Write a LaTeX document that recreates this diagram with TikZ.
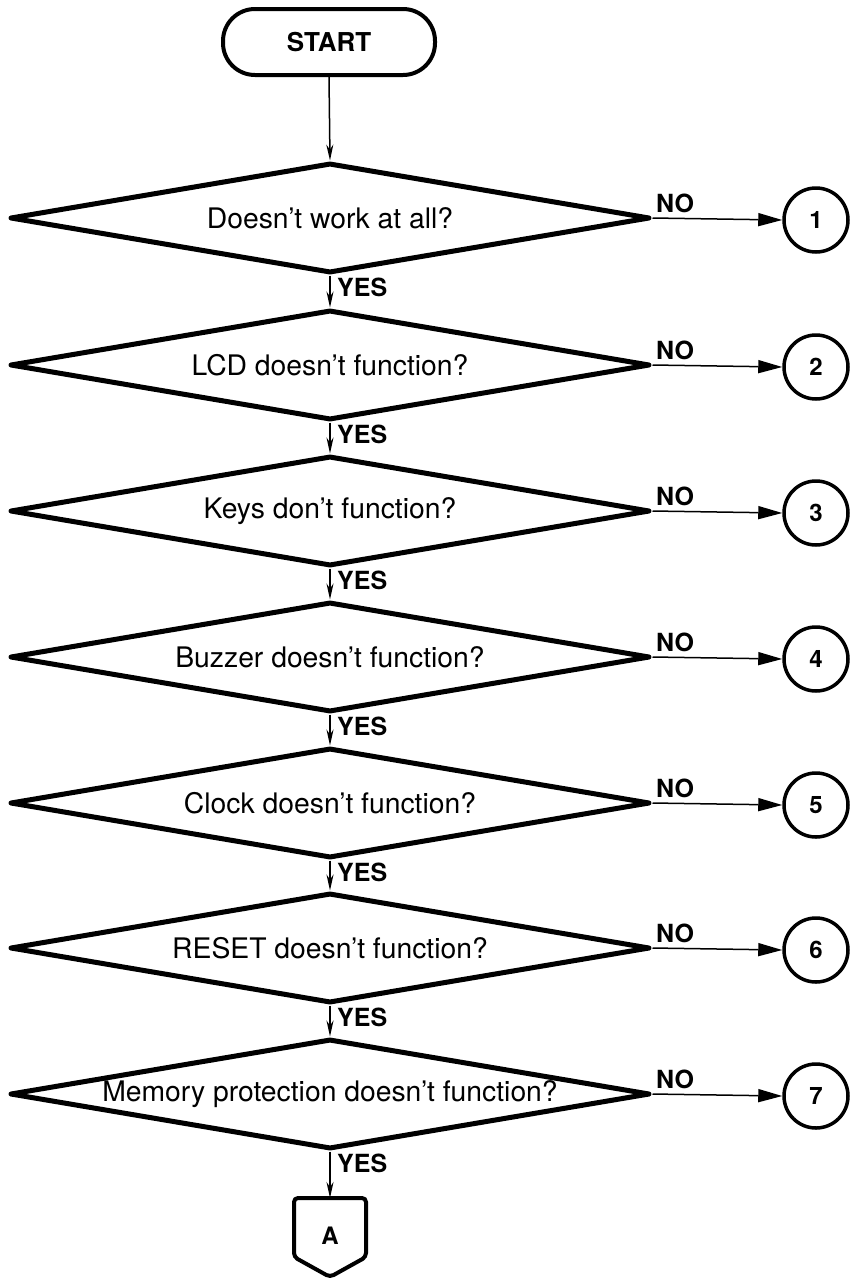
\documentclass[tikz,border=0pt]{standalone}
\usepackage{fontspec}
\setmainfont{TeX Gyre Heros}
\usetikzlibrary{shapes.geometric,arrows.meta}
\begin{document}
\begin{tikzpicture}[x=1pt,y=-1pt,
  dia/.style={shape=diamond,draw,line width=5pt,line join=round,minimum width=640pt,minimum height=110pt,inner sep=0pt},
  qtext/.style={font=\fontsize{28.3}{31}\selectfont},
  lab/.style={font=\bfseries\fontsize{25}{27}\selectfont,inner sep=0pt},
  conn/.style={draw,line width=3.5pt,circle,minimum size=64pt,inner sep=0pt,font=\bfseries\fontsize{24}{26}\selectfont},
  down/.style={line width=1.5pt,-{Stealth[length=16pt,width=7pt]}},
  rightarr/.style={line width=1.5pt,-{Triangle[length=24pt,width=13pt]}},
  startbox/.style={draw,line width=4pt,rounded corners=32pt,minimum width=212pt,minimum height=66pt,font=\bfseries\fontsize{26}{28}\selectfont}
]
\useasboundingbox (0,0) rectangle (849,1280);
\node[startbox] (start) at (329,42) {START};
\foreach \i/\y/\t in {1/218/{Doesn’t work at all?},2/365/{LCD doesn’t function?},3/511/{Keys don’t function?},4/657/{Buzzer doesn’t function?},5/803/{Clock doesn’t function?},6/948/{RESET doesn’t function?},7/1094/{Memory protection doesn’t function?}}{
  \node[dia] (d\i) at (330,\y) {};
  \node[qtext] (t\i) at (330,\y) {\t};
  \node[conn] (c\i) at (816,\y+2) {\i};
  \draw[rightarr] (d\i.east) -- (c\i.west);
  \node[lab,anchor=south west] (no\i) at (656,\y-5) {NO};
  \node[lab,anchor=north west] (yes\i) at (337,\y+60) {YES};
}
\draw[down] (start.south) -- (d1.north);
\foreach \i/\j in {1/2,2/3,3/4,4/5,5/6,6/7}{\draw[down] (d\i.south) -- (d\j.north);}
% off-page connector A
\coordinate (Atop) at (330,1198);
\draw[line width=4pt,rounded corners=4pt] (Atop) -- (366,1198) -- (366,1257) -- (330,1277) -- (294,1257) -- (294,1198) -- cycle;
\node[lab,font=\bfseries\fontsize{24}{26}\selectfont] (A) at (330,1236) {A};
\draw[down] (d7.south) -- (Atop);
\end{tikzpicture}
\end{document}
